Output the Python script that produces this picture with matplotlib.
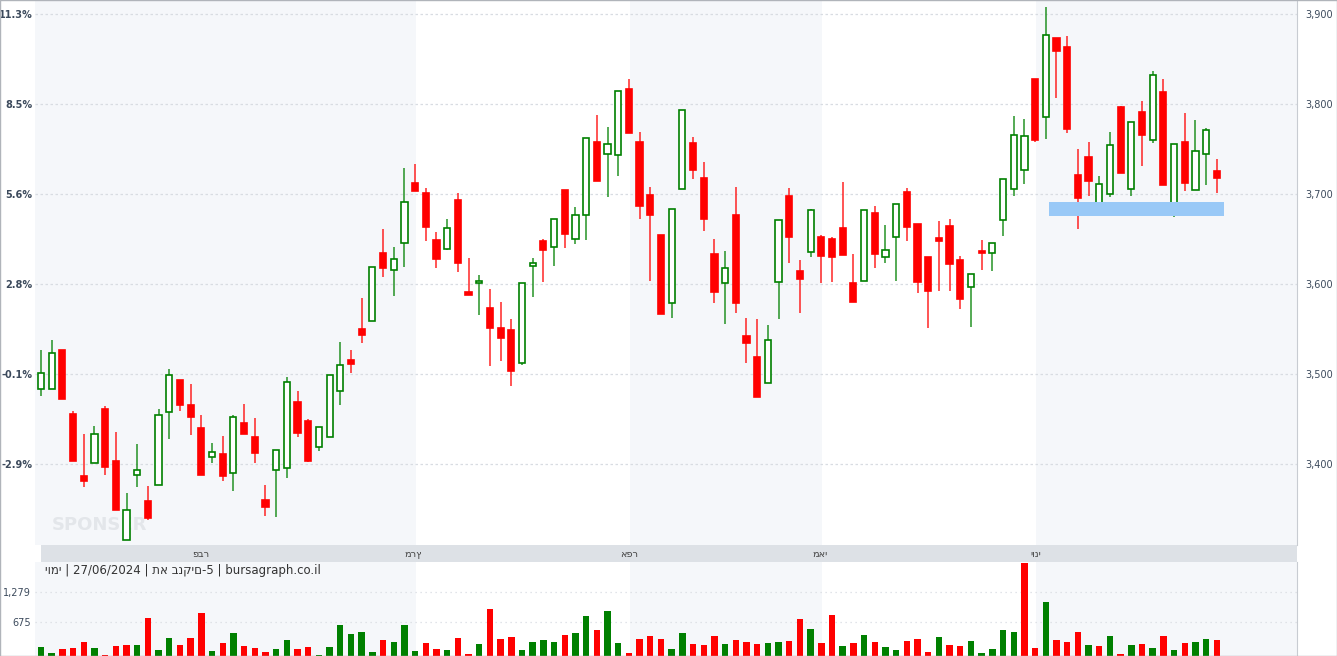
import matplotlib
matplotlib.use('Agg')
import matplotlib.pyplot as plt
from matplotlib.patches import Rectangle

# ---------- Data (daily, TA-Banks5) ----------
opens = [3483, 3483, 3527, 3456, 3387, 3401, 3461, 3403, 3316, 3388,
         3359, 3377, 3458, 3493, 3466, 3440, 3408, 3411, 3390, 3446,
         3430, 3360, 3393, 3396, 3469, 3448, 3419, 3430, 3481, 3516,
         3550, 3559, 3634, 3616, 3646, 3712, 3701, 3649, 3639, 3693,
         3591, 3601, 3573, 3551, 3549, 3512, 3620, 3648, 3641, 3704,
         3650, 3677, 3758, 3744, 3743, 3817, 3758, 3699, 3654, 3579,
         3706, 3757, 3718, 3633, 3601, 3677, 3542, 3519, 3490, 3602,
         3698, 3614, 3636, 3652, 3650, 3662, 3601, 3603, 3679, 3630,
         3652, 3702, 3667, 3630, 3651, 3664, 3627, 3597, 3637, 3634,
         3671, 3706, 3727, 3828, 3786, 3873, 3863, 3721, 3741, 3690,
         3700, 3797, 3706, 3791, 3760, 3813, 3690, 3758, 3704, 3744, 3726]
highs = [3527, 3538, 3527, 3459, 3433, 3442, 3464, 3436, 3368, 3422,
         3376, 3461, 3506, 3493, 3489, 3455, 3423, 3431, 3455, 3467,
         3451, 3377, 3416, 3497, 3481, 3450, 3441, 3499, 3536, 3527,
         3585, 3619, 3661, 3641, 3729, 3733, 3707, 3658, 3672, 3701,
         3629, 3610, 3594, 3580, 3561, 3601, 3629, 3650, 3672, 3704,
         3686, 3762, 3788, 3775, 3815, 3828, 3769, 3708, 3654, 3683,
         3793, 3763, 3736, 3650, 3637, 3708, 3562, 3561, 3555, 3671,
         3707, 3627, 3683, 3654, 3652, 3713, 3633, 3682, 3687, 3666,
         3689, 3707, 3667, 3630, 3670, 3672, 3631, 3611, 3649, 3646,
         3717, 3787, 3783, 3828, 3908, 3873, 3876, 3750, 3758, 3720,
         3769, 3798, 3780, 3803, 3837, 3828, 3756, 3790, 3782, 3773, 3739]
lows = [3476, 3483, 3472, 3403, 3375, 3401, 3388, 3349, 3316, 3375,
        3338, 3377, 3428, 3459, 3432, 3388, 3401, 3381, 3370, 3433,
        3401, 3342, 3341, 3385, 3430, 3402, 3414, 3430, 3466, 3501,
        3534, 3559, 3608, 3587, 3619, 3703, 3648, 3618, 3638, 3613,
        3588, 3566, 3509, 3514, 3487, 3510, 3586, 3602, 3620, 3640,
        3645, 3649, 3715, 3697, 3720, 3768, 3672, 3603, 3567, 3562,
        3706, 3717, 3659, 3579, 3556, 3568, 3512, 3475, 3490, 3561,
        3623, 3568, 3630, 3601, 3602, 3632, 3580, 3603, 3618, 3623,
        3603, 3648, 3590, 3551, 3592, 3592, 3572, 3552, 3616, 3615,
        3653, 3698, 3711, 3758, 3761, 3807, 3768, 3661, 3698, 3690,
        3697, 3723, 3698, 3731, 3757, 3710, 3674, 3703, 3704, 3710, 3701]
closes = [3501, 3523, 3472, 3403, 3381, 3433, 3397, 3349, 3349, 3393,
          3340, 3455, 3499, 3466, 3452, 3388, 3413, 3387, 3452, 3433,
          3412, 3352, 3416, 3491, 3435, 3403, 3441, 3499, 3510, 3511,
          3543, 3619, 3618, 3628, 3691, 3703, 3663, 3628, 3662, 3623,
          3588, 3603, 3551, 3540, 3503, 3601, 3623, 3638, 3672, 3656,
          3677, 3762, 3715, 3756, 3815, 3768, 3687, 3677, 3567, 3683,
          3793, 3727, 3672, 3591, 3618, 3579, 3535, 3475, 3538, 3671,
          3652, 3606, 3682, 3631, 3630, 3632, 3580, 3682, 3633, 3638,
          3689, 3663, 3602, 3592, 3648, 3622, 3583, 3611, 3634, 3646,
          3717, 3766, 3764, 3760, 3877, 3859, 3772, 3696, 3714, 3711,
          3754, 3723, 3780, 3766, 3832, 3710, 3756, 3712, 3748, 3771, 3718]
volumes = [188, 54, 148, 168, 289, 168, 27, 208, 228, 228,
           752, 128, 369, 228, 369, 852, 107, 255, 470, 208,
           168, 87, 148, 329, 148, 188, 27, 188, 611, 450,
           490, 87, 329, 289, 611, 107, 268, 148, 128, 369,
           47, 248, 933, 349, 389, 128, 289, 329, 289, 429,
           470, 792, 530, 892, 268, 67, 349, 409, 349, 148,
           470, 248, 228, 409, 248, 329, 289, 248, 268, 289,
           309, 731, 550, 268, 812, 208, 268, 429, 289, 188,
           128, 309, 349, 87, 389, 228, 208, 309, 67, 148,
           530, 490, 1859, 168, 1074, 329, 289, 490, 228, 208,
           409, 47, 228, 248, 168, 409, 128, 268, 289, 349, 329]
vol_up = "GGRRRGRRRGRGGRRRGRGRRRGGRRGGGGGGRGGGRRGRRGRRRGGGGRGGRGGRRRRGGRRRGRRRGGRRGRRGRGRGGRRRGRRGGGGGRRGRRRGRGRGRGRGRGGR"
support_zone = (94.3, 110.7, 3676, 3691)

month_labels = ['פבר', 'מרץ', 'אפר', 'מאי', 'יוני']
month_pos = [14.9, 34.8, 55.0, 72.9, 93.1]
shade_spans = [(-0.6, 35.1), (55.1, 73.1), (93.1, 118)]

price_ticks = [3400, 3500, 3600, 3700, 3800, 3900]
pct_labels = ['-2.9%', '-0.1%', '2.8%', '5.6%', '8.5%', '11.3%']
vol_ticks = [675, 1279]

header = 'יומי | 27/06/2024 | תא בנקים-5 | bursagraph.co.il'

# ---------- Style ----------
RED = '#ff0000'
GREEN = '#008000'
SHADE = '#f5f7fa'
GRID = '#d8dce2'
LABEL = '#3c4a5c'
plt.rcParams['font.family'] = ['DejaVu Sans']

W, H = 1337, 656
fig = plt.figure(figsize=(W / 100, H / 100), dpi=100)
L, R = 35 / W, 1297 / W
ax = fig.add_axes([L, 111 / H, R - L, 545 / H])
ax_date = fig.add_axes([L, 94 / H, R - L, 17 / H])
ax_vol = fig.add_axes([L, 0, R - L, 94 / H])
xlim = (-0.56, 117.5)

for a in (ax, ax_vol):
    a.set_xlim(*xlim)
    for x0, x1 in shade_spans:
        a.axvspan(x0, x1, color=SHADE, zorder=0, lw=0)
    for s in a.spines.values():
        s.set_visible(False)
    a.tick_params(length=0)
    a.set_xticks([])

# candles
ax.set_ylim(3310, 3915.6)
bw = 0.58
for i, (o, h, l, c) in enumerate(zip(opens, highs, lows, closes)):
    up = c >= o
    col = GREEN if up else RED
    ax.vlines(i, l, h, color=col, lw=1.1, zorder=2, alpha=0.85)
    lo, hi = min(o, c), max(o, c)
    ax.add_patch(Rectangle((i - bw / 2, lo), bw, max(hi - lo, 1.2),
                           facecolor='white' if up else RED,
                           edgecolor=col, lw=1.2, zorder=3))

x0, x1, y0, y1 = support_zone
ax.add_patch(Rectangle((x0, y0), x1 - x0, y1 - y0, facecolor='#99c9f7',
                       edgecolor='none', zorder=4))

ax.set_yticks(price_ticks)
ax.set_yticklabels(pct_labels, fontsize=7, color=LABEL, fontweight='bold')
ax.tick_params(axis='y', pad=2)
ax.grid(axis='y', color=GRID, ls=(0, (2, 2)), lw=0.9, zorder=1)
axr = ax.twinx()
axr.set_ylim(ax.get_ylim())
axr.set_yticks(price_ticks)
axr.set_yticklabels([f'{p:,}' for p in price_ticks], fontsize=7, color=LABEL)
axr.tick_params(length=0, pad=6)
for s in axr.spines.values():
    s.set_visible(False)
axr.spines['right'].set_visible(True)
axr.spines['right'].set_color('#c8ccd2')

ax.text(1.0, 3322, 'SPONSER', fontsize=13, color='#e3e6ea', fontweight='bold',
        ha='left', va='bottom', zorder=1)

# date strip
ax_date.set_xlim(*xlim)
ax_date.set_ylim(0, 1)
ax_date.axvspan(0, xlim[1], color='#dde1e6', lw=0)
ax_date.axis('off')
for lab, pos in zip(month_labels, month_pos):
    ax_date.text(pos, 0.45, lab, ha='center', va='center', fontsize=7,
                 color='#444')

# volume
ax_vol.set_ylim(0, 1882)
ax_vol.bar(range(len(volumes)), volumes, width=0.6,
           color=[GREEN if v == 'G' else RED for v in vol_up], zorder=2)
ax_vol.set_yticks(vol_ticks)
ax_vol.set_yticklabels([f'{v:,}' for v in vol_ticks], fontsize=7, color=LABEL)
ax_vol.tick_params(axis='y', pad=3)
ax_vol.grid(axis='y', color=GRID, ls=(0, (1, 3)), lw=0.9, zorder=1)
ax_vol.text(0.008, 0.98, header, transform=ax_vol.transAxes, ha='left', va='top',
            fontsize=8.5, color='#333')
axvr = ax_vol.twinx()
axvr.set_yticks([])
for s in axvr.spines.values():
    s.set_visible(False)
axvr.spines['right'].set_visible(True)
axvr.spines['right'].set_color('#c8ccd2')

fig.patches.append(Rectangle((0, 0), 1, 1, transform=fig.transFigure,
                             fill=False, edgecolor='#b0b4ba', lw=1))
fig.savefig('out.png', dpi=100)
